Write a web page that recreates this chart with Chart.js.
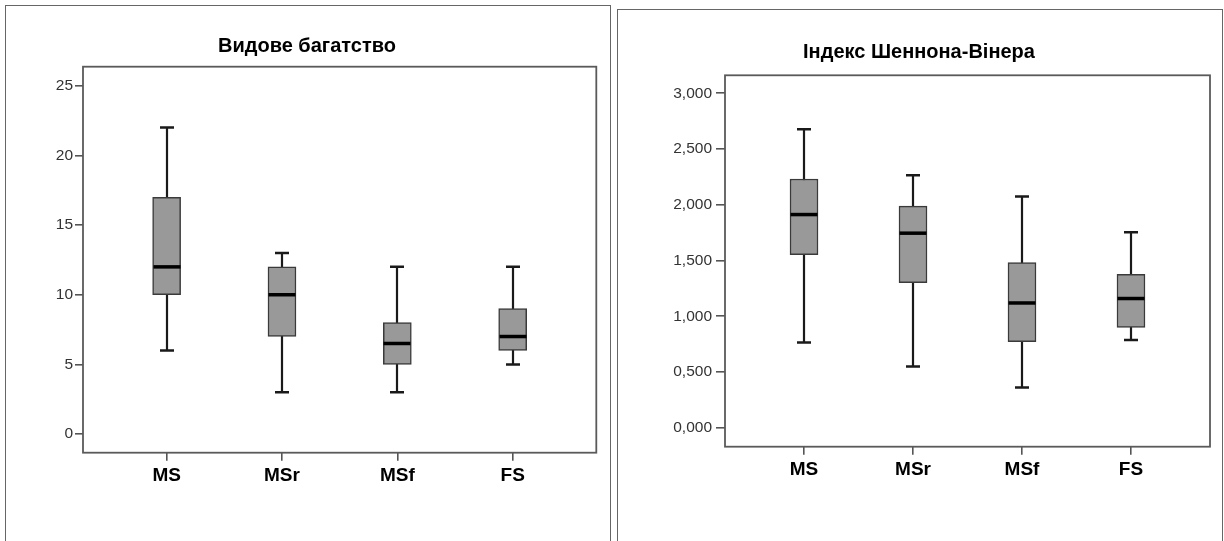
<!DOCTYPE html>
<html>
<head>
<meta charset="utf-8">
<script src="https://cdn.jsdelivr.net/npm/chart.js@4.4.1/dist/chart.umd.min.js"></script>
<style>
  html, body { margin: 0; padding: 0; background: #ffffff; }
  body { width: 1224px; height: 541px; position: relative; overflow: hidden; }
  .panel { position: absolute; border: 1px solid #666; border-bottom: none; background: #fff; }
  canvas { position: absolute; top: 0; }
</style>
</head>
<body>
<div class="panel" style="left:5px; top:5px; width:604px; height:560px;"></div>
<div class="panel" style="left:617px; top:9px; width:604px; height:560px;"></div>
<canvas id="richness" width="612" height="541" style="left:0px;"></canvas>
<canvas id="shannon" width="612" height="541" style="left:612px;"></canvas>
<script>
// Groups on the horizontal axis
const categories = ['MS', 'MSr', 'MSf', 'FS'];

// Species richness: five-number summaries per group
const richMin    = [6, 3, 3, 5];
const richQ1     = [10, 7, 5, 6];
const richMedian = [12, 10, 6.5, 7];
const richQ3     = [17, 12, 8, 9];
const richMax    = [22, 13, 12, 12];
const richTicks      = [0, 5, 10, 15, 20, 25];
const richTickLabels = ['0', '5', '10', '15', '20', '25'];

// Shannon–Wiener index: five-number summaries per group
const shanMin    = [0.765, 0.549, 0.360, 0.787];
const shanQ1     = [1.553, 1.302, 0.772, 0.899];
const shanMedian = [1.912, 1.745, 1.119, 1.159];
const shanQ3     = [2.231, 1.987, 1.481, 1.376];
const shanMax    = [2.678, 2.265, 2.073, 1.754];
const shanTicks      = [0, 0.5, 1, 1.5, 2, 2.5, 3];
const shanTickLabels = ['0,000', '0,500', '1,000', '1,500', '2,000', '2,500', '3,000'];

// Tick labels use a narrow face when one is installed
function tickFont() {
  const c = document.createElement('canvas').getContext('2d');
  c.font = '20px monospace';
  const w0 = c.measureText('3,000 25').width;
  c.font = '20px "Liberation Sans Narrow", monospace';
  const w1 = c.measureText('3,000 25').width;
  if (Math.abs(w0 - w1) > 0.5) return { family: '"Liberation Sans Narrow", "Arial Narrow", sans-serif', size: 18 };
  return { family: '"Liberation Sans", Arial, sans-serif', size: 15.5 };
}
const TF = tickFont();

// Whiskers, caps, medians and the plot frame for one chart
function boxPlotParts(stats) {
  return {
    id: 'boxPlotParts',
    beforeDatasetsDraw(chart) {
      const x = chart.scales.x, y = chart.scales.y, ctx = chart.ctx;
      ctx.save();
      ctx.strokeStyle = '#1a1a1a';
      ctx.lineCap = 'butt';
      stats.min.forEach((_, i) => {
        const px = Math.round(x.getPixelForValue(i));
        const yMin = y.getPixelForValue(stats.min[i]);
        const yMax = y.getPixelForValue(stats.max[i]);
        ctx.lineWidth = 2.2;
        ctx.beginPath();
        ctx.moveTo(px, yMin); ctx.lineTo(px, yMax);
        ctx.stroke();
        ctx.lineWidth = 2.5;
        ctx.beginPath();
        ctx.moveTo(px - 7, yMin); ctx.lineTo(px + 7, yMin);
        ctx.moveTo(px - 7, yMax); ctx.lineTo(px + 7, yMax);
        ctx.stroke();
      });
      ctx.restore();
    },
    afterDatasetsDraw(chart) {
      const x = chart.scales.x, y = chart.scales.y, ctx = chart.ctx;
      const a = chart.chartArea;
      ctx.save();
      ctx.strokeStyle = '#000';
      ctx.lineWidth = 3.5;
      stats.median.forEach((m, i) => {
        const px = Math.round(x.getPixelForValue(i));
        const py = y.getPixelForValue(m);
        ctx.beginPath();
        ctx.moveTo(px - 13.5, py); ctx.lineTo(px + 13.5, py);
        ctx.stroke();
      });
      ctx.strokeStyle = '#5a5a5a';
      ctx.lineWidth = 1.8;
      ctx.strokeRect(a.left, a.top, a.right - a.left, a.bottom - a.top);
      ctx.restore();
    }
  };
}

function makeBoxChart(id, title, stats, ticks, tickLabels, geo) {
  const canvas = document.getElementById(id);
  return new Chart(canvas, {
    type: 'bar',
    data: {
      datasets: [{
        data: categories.map((c, i) => ({ x: i, y: [stats.q1[i], stats.q3[i]] })),
        backgroundColor: '#999999',
        borderColor: '#3a3a3a',
        borderWidth: 1.5,
        borderSkipped: false,
        barThickness: 28
      }]
    },
    options: {
      responsive: false,
      animation: false,
      devicePixelRatio: 1,
      layout: { padding: { left: geo.padLeft, top: 0, right: geo.right, bottom: 0 } },
      plugins: {
        legend: { display: false },
        tooltip: { enabled: false },
        title: {
          display: true,
          text: title,
          color: '#000',
          font: { family: '"Liberation Sans", Arial, sans-serif', size: 20, weight: 'bold' },
          padding: { top: geo.titleTop, bottom: geo.titleBottom }
        }
      },
      scales: {
        x: {
          type: 'linear',
          min: -0.725,
          max: 3.725,
          offset: false,
          border: { display: false },
          grid: { offset: false, drawOnChartArea: false, drawTicks: true, tickLength: 8, color: '#555', lineWidth: 1.6 },
          afterBuildTicks: sc => { sc.ticks = categories.map((c, i) => ({ value: i })); },
          afterFit: sc => { sc.height = 541 - geo.bottom; },
          ticks: {
            autoSkip: false,
            maxRotation: 0,
            padding: geo.xPad,
            color: '#000',
            font: { family: '"Liberation Sans", Arial, sans-serif', size: 19, weight: 'bold' },
            callback: (v, i) => categories[i]
          }
        },
        y: {
          type: 'linear',
          min: geo.yMin,
          max: geo.yMax,
          border: { display: false },
          grid: { drawOnChartArea: false, drawTicks: true, tickLength: geo.tickLen, color: '#555', lineWidth: 1.6 },
          afterBuildTicks: sc => { sc.ticks = ticks.map(v => ({ value: v })); },
          afterFit: sc => { sc.width = geo.left - geo.padLeft; },
          ticks: {
            autoSkip: false,
            padding: geo.yPad,
            color: '#333',
            font: { family: TF.family, size: TF.size },
            callback: (v, i) => tickLabels[i]
          }
        }
      }
    },
    plugins: [boxPlotParts(stats)]
  });
}

makeBoxChart('richness', 'Видове багатство',
  { min: richMin, q1: richQ1, median: richMedian, q3: richQ3, max: richMax },
  richTicks, richTickLabels,
  { left: 83, padLeft: 17.7, right: 15.7, bottom: 452.7, titleTop: 34.6, titleBottom: 8.1,
    yMin: -1.34, yMax: 26.37, tickLen: 8, yPad: 2, xPad: 4 });

makeBoxChart('shannon', 'Індекс Шеннона-Вінера',
  { min: shanMin, q1: shanQ1, median: shanMedian, q3: shanQ3, max: shanMax },
  shanTicks, shanTickLabels,
  { left: 113, padLeft: 16, right: 14, bottom: 446.7, titleTop: 40.4, titleBottom: 10.9,
    yMin: -0.170, yMax: 3.161, tickLen: 9, yPad: 4, xPad: 4 });
</script>
</body>
</html>
